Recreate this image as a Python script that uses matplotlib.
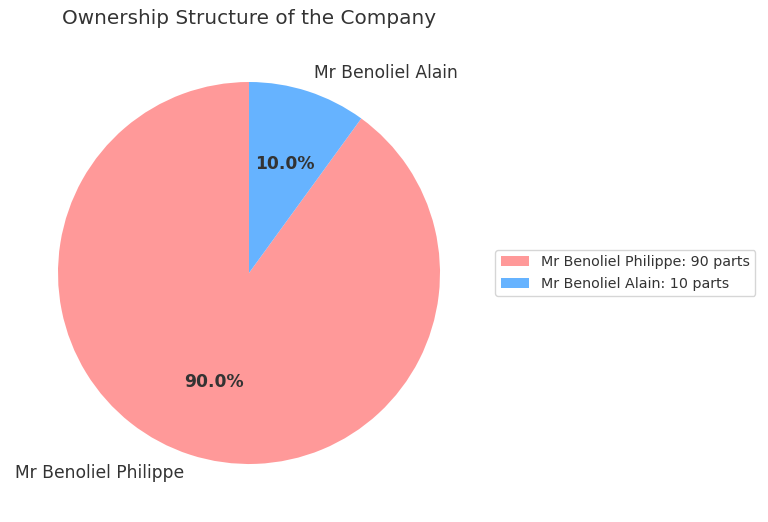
import matplotlib
matplotlib.use('Agg')
import matplotlib.pyplot as plt

owners = ['Mr Benoliel Philippe', 'Mr Benoliel Alain']
parts = [90, 10]
colors = ['#ff9999', '#66b3ff']

fig = plt.figure(figsize=(7.68, 5.22), dpi=100)
ax = fig.add_axes([10.25 / 768, 10.25 / 522, 477.5 / 768, 477.5 / 522])

wedges, texts, autotexts = ax.pie(parts, labels=owners, colors=colors,
                                  autopct='%1.1f%%', startangle=90,
                                  textprops={'fontsize': 12.3, 'color': '#333333'})
for t in autotexts:
    t.set_fontweight('bold')
ax.set_aspect('equal')
ax.set_xlim(-1.25, 1.25)
ax.set_ylim(-1.25, 1.25)

ax.set_title('Ownership Structure of the Company', fontsize=14.4,
             color='#333333', pad=7.5)

ax.legend(wedges, ['{}: {} parts'.format(o, p) for o, p in zip(owners, parts)],
          loc='center left', bbox_to_anchor=(1, 0, 0.5, 1), fontsize=10.3,
          labelcolor='#333333')

plt.savefig('out.png', dpi=100)
